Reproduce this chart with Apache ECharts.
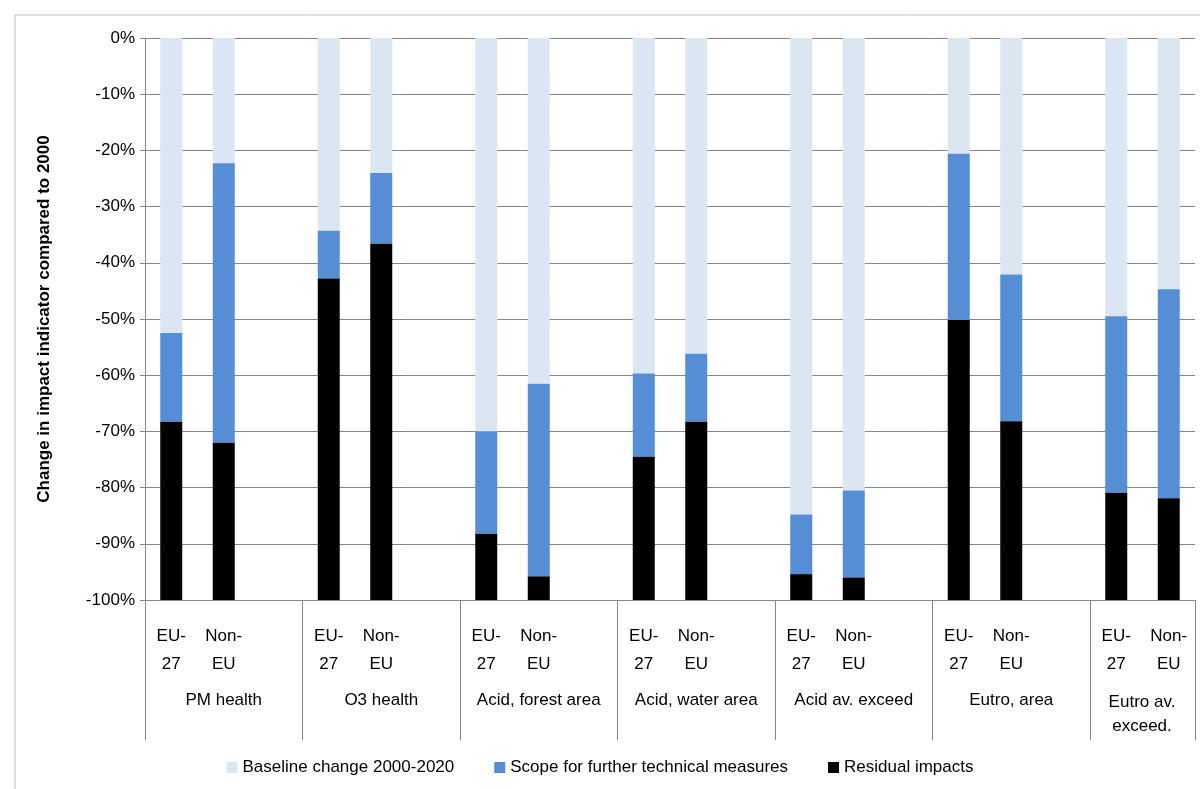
<!DOCTYPE html>
<html lang="en">
<head>
<meta charset="UTF-8">
<title>Impact indicators</title>
<style>
  html, body { margin: 0; width: 100%; height: 100%; background: #fff; }
  #main { width: 1200px; height: 789px; }
</style>
</head>
<body>
<div id="main"></div>
<script src="https://cdn.jsdelivr.net/npm/echarts@6/dist/echarts.min.js"></script>
<script>
  // bar slots: EU-27, Non-EU, gap per group (last group has no gap)
  var slots = ['EU-\n27', 'Non-\nEU', '', 'EU-\n27', 'Non-\nEU', '', 'EU-\n27', 'Non-\nEU', '',
    'EU-\n27', 'Non-\nEU', '', 'EU-\n27', 'Non-\nEU', '', 'EU-\n27', 'Non-\nEU', '', 'EU-\n27', 'Non-\nEU'];
  var groups = ['PM health', 'O3 health', 'Acid, forest area', 'Acid, water area', 'Acid av. exceed', 'Eutro, area'];
  var lastGroup = 'Eutro av.\nexceed.';

  var baseline = [-52.5, -22.3, null, -34.3, -24.0, null, -70.0, -61.5, null, -59.7, -56.2, null,
    -84.8, -80.5, null, -20.6, -42.1, null, -49.5, -44.7];
  var scope = [-15.8, -49.7, null, -8.5, -12.6, null, -18.2, -34.3, null, -14.8, -12.1, null,
    -10.6, -15.5, null, -29.6, -26.1, null, -31.4, -37.2];
  var residual = [-31.7, -28.0, null, -57.2, -63.4, null, -11.8, -4.2, null, -25.5, -31.7, null,
    -4.6, -4.0, null, -49.8, -31.8, null, -19.1, -18.1];

  var groupLabels = slots.map(function (s, i) {
    return (i % 3 === 1 && i < 18) ? groups[(i - 1) / 3] : '';
  });

  var font = 'Liberation Sans, Arial, sans-serif';
  var chart = echarts.init(document.getElementById('main'));
  chart.setOption({
    animation: false,
    textStyle: { fontFamily: font },
    grid: { left: 145, right: 5, top: 38, bottom: 189 },
    legend: {
      bottom: 8, left: 'center', itemWidth: 11, itemHeight: 11, itemGap: 40,
      icon: 'rect', textStyle: { fontSize: 17, color: '#000' },
      data: ['Baseline change 2000-2020', 'Scope for further technical measures', 'Residual impacts']
    },
    xAxis: [{
      type: 'category', data: slots,
      axisLine: { onZero: false, lineStyle: { color: '#868686' } },
      axisTick: {
        show: true, length: 140, alignWithLabel: false, lineStyle: { color: '#868686' },
        interval: function (i) { return i % 3 === 0; }
      },
      axisLabel: { color: '#000', fontSize: 17, margin: 22, lineHeight: 28, interval: 0 }
    }, {
      type: 'category', data: groupLabels, position: 'bottom',
      axisLine: { show: false, onZero: false },
      axisTick: { show: false },
      axisLabel: { color: '#000', fontSize: 17, margin: 92, interval: 0 }
    }],
    yAxis: {
      type: 'value', min: -100, max: 0, interval: 10,
      axisLine: { show: true, lineStyle: { color: '#868686' } },
      axisTick: { show: true, length: 5, lineStyle: { color: '#868686' } },
      axisLabel: { color: '#000', fontSize: 17, margin: 10, formatter: '{value}%' },
      splitLine: { lineStyle: { color: '#868686' } },
      name: 'Change in impact indicator compared to 2000',
      nameLocation: 'middle', nameGap: 92, nameRotate: 90,
      nameTextStyle: { fontSize: 17, fontWeight: 'bold', color: '#000' }
    },
    series: [
      { name: 'Baseline change 2000-2020', type: 'bar', stack: 'a', data: baseline, barWidth: 22, itemStyle: { color: '#dce6f2' } },
      { name: 'Scope for further technical measures', type: 'bar', stack: 'a', data: scope, itemStyle: { color: '#558ed5' } },
      { name: 'Residual impacts', type: 'bar', stack: 'a', data: residual, itemStyle: { color: '#000' } }
    ],
    graphic: [{
      type: 'text', x: 1142, y: 690,
      style: { text: lastGroup, font: '17px ' + font, fill: '#000', align: 'center', lineHeight: 24 }
    }, {
      type: 'rect', shape: { x: 15, y: 15, width: 1200, height: 800 },
      style: { fill: 'none', stroke: '#bfbfbf' }
    }]
  });
</script>
</body>
</html>
